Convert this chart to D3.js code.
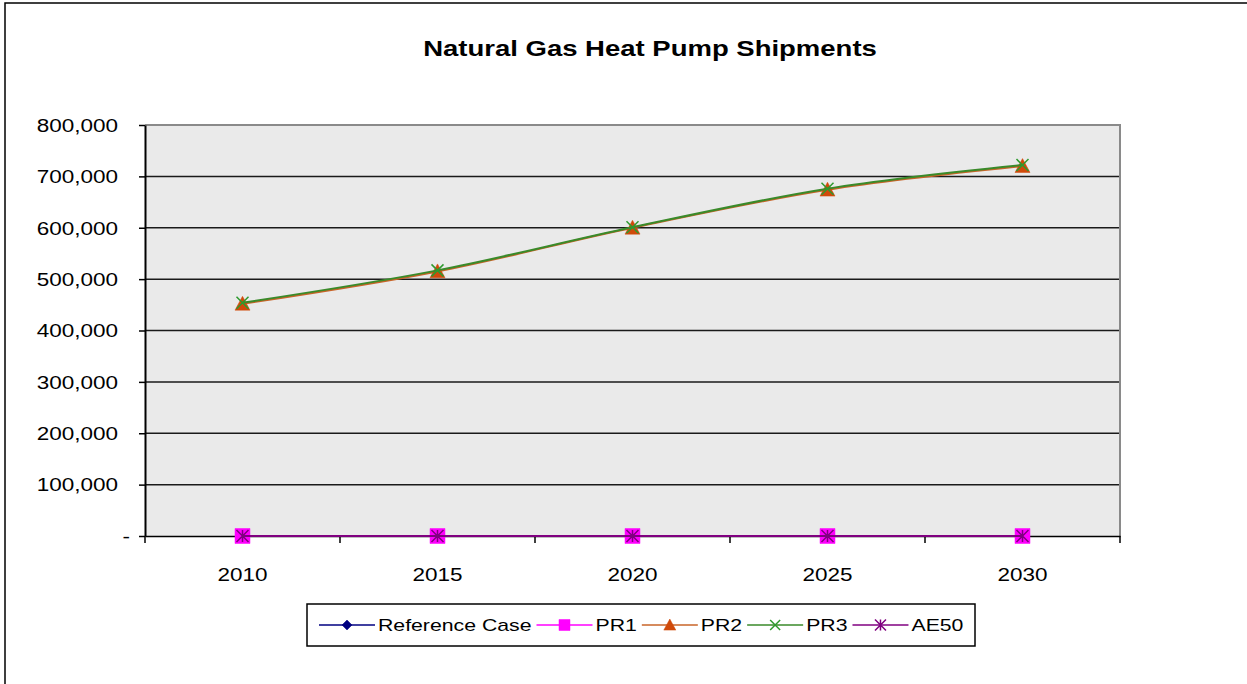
<!DOCTYPE html>
<html><head><meta charset="utf-8">
<script src="https://cdn.jsdelivr.net/npm/d3@7"></script>
<style>body{margin:0;background:#fff}svg{display:block;font-family:"Liberation Sans",Arial,sans-serif}</style>
</head><body><svg id="c" width="1247" height="684"></svg>
<script>
const categories = ["2010","2015","2020","2025","2030"];
const refCase = [0,0,0,0,0];
const pr1 = [0,0,0,0,0];
const pr2 = [452000,515000,600000,674000,720000];
const pr3 = [454000,517000,601000,676000,722000];
const ae50 = [0,0,0,0,0];
const yTicks = [0,100000,200000,300000,400000,500000,600000,700000,800000];
const title = "Natural Gas Heat Pump Shipments";

const series = [
  {name:"Reference Case", values:refCase, color:"#000080", marker:"diamond"},
  {name:"PR1", values:pr1, color:"#FF00FF", marker:"square"},
  {name:"PR2", values:pr2, color:"#D04A0A", line:"#C86428", marker:"triangle"},
  {name:"PR3", values:pr3, color:"#2E9A2E", line:"#3A8A2A", marker:"x"},
  {name:"AE50", values:ae50, color:"#800080", marker:"star"}
];

const SX = 1.25;
const svg = d3.select("#c");
const L=145, R=1120, T=125, B=536;

svg.append("rect").attr("x",5).attr("y",3).attr("width",1300).attr("height",800)
  .attr("fill","#fff").attr("stroke","#000").attr("stroke-width",1.5);

const x = d3.scaleBand().domain(categories).range([L,R]).padding(0);
const y = d3.scaleLinear().domain([0,800000]).range([B,T]);
const cx = c => x(c)+x.bandwidth()/2;

svg.append("rect").attr("x",L).attr("y",T).attr("width",R-L).attr("height",B-T).attr("fill","#EAEAEA");

// gridlines
svg.append("g").selectAll("line").data(yTicks.filter(v=>v>0 && v<800000)).join("line")
  .attr("x1",L).attr("x2",R).attr("y1",d=>y(d)).attr("y2",d=>y(d))
  .attr("stroke","#1a1a1a").attr("stroke-width",1.5);
// plot border top/right
svg.append("path").attr("d",`M${L},${T}H${R}V${B}`).attr("fill","none").attr("stroke","#8a8a8a").attr("stroke-width",2);

// y axis
const yAxis = svg.append("g").attr("transform",`translate(${L},0)`)
  .call(d3.axisLeft(y).tickValues(yTicks).tickSize(6).tickSizeOuter(0)
    .tickFormat(d=> d===0 ? "-" : d3.format(",")(d)));
yAxis.select(".domain").attr("stroke","#000").attr("stroke-width",2);
yAxis.selectAll(".tick line").attr("stroke","#000").attr("stroke-width",1.5);
yAxis.selectAll(".tick text").attr("x",0).attr("dy","0.35em")
  .attr("transform",d=> d===0 ? `translate(-15,0) scale(${SX},1)` : `translate(-27,0) scale(${SX},1)`)
  .attr("font-size",18).attr("fill","#000").attr("font-family","Liberation Sans, Arial, sans-serif");

// x axis
const xAxis = svg.append("g").attr("transform",`translate(0,${B})`)
  .call(d3.axisBottom(x).tickSize(0).tickSizeOuter(0));
xAxis.select(".domain").attr("stroke","#000").attr("stroke-width",1.5);
xAxis.selectAll(".tick text").attr("y",0).attr("dy",0)
  .attr("transform",`translate(0,45) scale(${SX},1)`)
  .attr("font-size",18).attr("fill","#000").attr("font-family","Liberation Sans, Arial, sans-serif");
svg.append("g").selectAll("line").data(categories.map(c=>x(c)).concat([R])).join("line")
  .attr("x1",d=>d).attr("x2",d=>d).attr("y1",B).attr("y2",B+7).attr("stroke","#000").attr("stroke-width",1.5);

// markers
function markerPath(type, s){
  const h=s/2;
  switch(type){
    case "diamond": return `M0,${-h}L${h},0L0,${h}L${-h},0Z`;
    case "square": return `M${-h},${-h}H${h}V${h}H${-h}Z`;
    case "triangle": return `M0,${-h}L${h},${h*0.85}L${-h},${h*0.85}Z`;
    case "x": return `M${-h},${-h}L${h},${h}M${h},${-h}L${-h},${h}`;
    case "star": return `M${-h},${-h}L${h},${h}M${h},${-h}L${-h},${h}M0,${-h}V${h}`;
  }
}
function drawMarker(g, type, color, s){
  const filled = type==="diamond"||type==="square"||type==="triangle";
  g.append("path").attr("d",markerPath(type,s))
    .attr("fill",filled?color:"none").attr("stroke",color).attr("stroke-width",filled?0.5:1.5);
}
const sizes = {diamond:11, square:15, triangle:15, x:12, star:12};
const lsizes = {diamond:10, square:11, triangle:12, x:10, star:11};

const lineGen = d3.line().x(d=>cx(d.c)).y(d=>y(d.v)).curve(d3.curveCatmullRom.alpha(0.5));
series.forEach(s=>{
  const pts = categories.map((c,i)=>({c, v:s.values[i]}));
  svg.append("path").datum(pts).attr("d",lineGen).attr("fill","none")
    .attr("stroke",s.line||s.color).attr("stroke-width",2);
  pts.forEach(p=>{
    const g = svg.append("g").attr("transform",`translate(${cx(p.c)},${y(p.v)})`);
    drawMarker(g, s.marker, s.color, sizes[s.marker]);
  });
});

// title
svg.append("text").attr("transform",`translate(650,56) scale(${SX},1)`).attr("text-anchor","middle")
  .attr("font-size",22).attr("font-weight","bold").attr("fill","#000").text(title);

// legend
const lg = svg.append("g");
lg.append("rect").attr("x",307).attr("y",604).attr("width",668).attr("height",42)
  .attr("fill","#fff").attr("stroke","#000").attr("stroke-width",1.5);
let lx = 319;
const ly = 625;
series.forEach(s=>{
  lg.append("line").attr("x1",lx).attr("x2",lx+56).attr("y1",ly).attr("y2",ly)
    .attr("stroke",s.line||s.color).attr("stroke-width",1.5);
  const g = lg.append("g").attr("transform",`translate(${lx+28},${ly})`);
  drawMarker(g, s.marker, s.color, lsizes[s.marker]);
  const t = lg.append("text").attr("transform",`translate(${lx+59},${ly+6}) scale(${SX},1)`)
    .attr("font-size",17).attr("fill","#000").text(s.name);
  const w = t.node().getComputedTextLength()*SX;
  lx = lx + 59 + w + 5;
});
</script></body></html>
